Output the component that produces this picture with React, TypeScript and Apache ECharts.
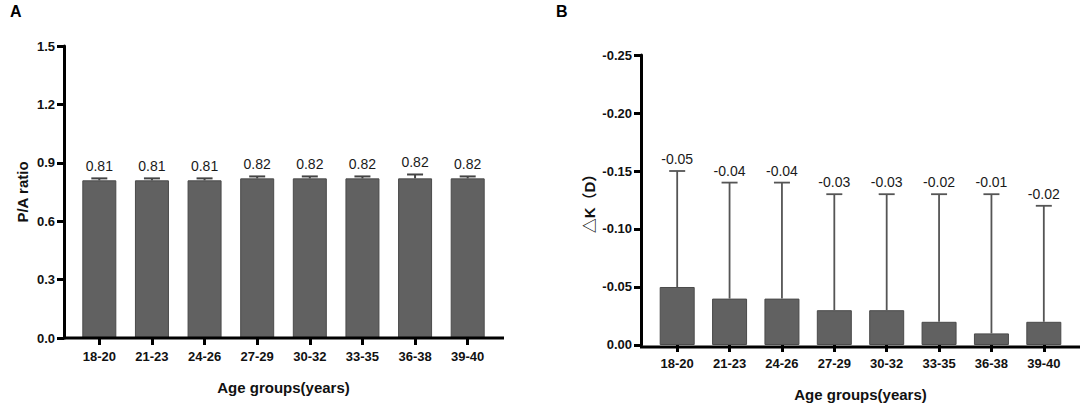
import React, { useEffect, useRef } from "react";
import * as echarts from "echarts";

const categories = ["18-20", "21-23", "24-26", "27-29", "30-32", "33-35", "36-38", "39-40"];
const paMean = [0.81, 0.81, 0.81, 0.82, 0.82, 0.82, 0.82, 0.82];
const paSD = [0.01, 0.01, 0.01, 0.01, 0.01, 0.01, 0.02, 0.01];
const dkMean = [-0.05, -0.04, -0.04, -0.03, -0.03, -0.02, -0.01, -0.02];
const dkSD = [0.1, 0.1, 0.1, 0.1, 0.1, 0.11, 0.12, 0.1];

const FONT = "'Liberation Sans', Arial, 'Noto Sans CJK SC', sans-serif";

function errorSeries(gridIdx: number, means: number[], sds: number[], dir: number, digits: number, lineColor: string, lineW: number) {
  const data = means.map((m, i) => [i, m, +(m + dir * sds[i]).toFixed(4), m]);
  return {
    type: "custom",
    xAxisIndex: gridIdx,
    yAxisIndex: gridIdx,
    z: 5,
    data,
    renderItem: (params: any, api: any) => {
      const i = api.value(0);
      const m = api.value(1);
      const h = api.value(2);
      const p0 = api.coord([i, m]);
      const p1 = api.coord([i, h]);
      const cap = 8;
      return {
        type: "group",
        children: [
          { type: "line", shape: { x1: p0[0], y1: p0[1], x2: p1[0], y2: p1[1] }, style: { stroke: lineColor, lineWidth: lineW } },
          { type: "line", shape: { x1: p1[0] - cap, y1: p1[1], x2: p1[0] + cap, y2: p1[1] }, style: { stroke: lineColor, lineWidth: lineW } },
          {
            type: "text",
            style: {
              x: p1[0],
              y: p1[1] - 5,
              text: Number(api.value(3)).toFixed(digits),
              align: "center",
              verticalAlign: "bottom",
              fontSize: 14,
              fontFamily: FONT,
              fill: "#1a1a1a",
            },
          },
        ],
      };
    },
  };
}

export default function App() {
  const ref = useRef<HTMLDivElement>(null);
  useEffect(() => {
    document.body.style.margin = "0";
    const chart = echarts.init(ref.current!, null, { renderer: "svg" });
    const axisBase = {
      type: "category",
      data: categories,
      axisLine: { show: false },
      axisTick: { show: true, alignWithLabel: true, length: 7, lineStyle: { color: "#000", width: 3 } },
      axisLabel: { color: "#111", fontWeight: "bold", fontSize: 13, fontFamily: FONT, margin: 12 },
      name: "Age groups(years)",
      nameLocation: "middle",
      nameGap: 42,
      nameTextStyle: { color: "#111", fontWeight: "bold", fontSize: 15, fontFamily: FONT },
    };
    const yBase = {
      type: "value",
      nameLocation: "middle",
      axisLine: { show: true, lineStyle: { color: "#000", width: 3 } },
      axisTick: { show: true, length: 7, lineStyle: { color: "#000", width: 3 } },
      splitLine: { show: false },
      nameTextStyle: { color: "#111", fontWeight: "bold", fontSize: 15, fontFamily: FONT },
    };
    const barStyle = { color: "#616161", borderColor: "#4a4a4a", borderWidth: 1 };
    chart.setOption({
      animation: false,
      grid: [
        { left: 73, top: 46, width: 421, height: 292 },
        { left: 651, top: 55, width: 419, height: 292 },
      ],
      xAxis: [
        { ...axisBase, gridIndex: 0 },
        { ...axisBase, gridIndex: 1 },
      ],
      yAxis: [
        {
          ...yBase,
          gridIndex: 0,
          min: 0,
          max: 1.5,
          interval: 0.3,
          offset: 9,
          name: "P/A ratio",
          nameGap: 34,
          axisLabel: { color: "#111", fontWeight: "bold", fontSize: 13, fontFamily: FONT, margin: 9, formatter: (v: number) => v.toFixed(1) },
        },
        {
          ...yBase,
          gridIndex: 1,
          min: -0.25,
          max: 0,
          interval: 0.05,
          inverse: true,
          offset: 10,
          name: "△K（D）",
          nameGap: 44,
          axisLabel: { color: "#111", fontWeight: "bold", fontSize: 13, fontFamily: FONT, margin: 9, formatter: (v: number) => v.toFixed(2) },
        },
      ],
      graphic: [
        { type: "line", shape: { x1: 63, y1: 338, x2: 504, y2: 338 }, style: { stroke: "#000", lineWidth: 3 }, z: 10 },
        { type: "line", shape: { x1: 640, y1: 347, x2: 1080, y2: 347 }, style: { stroke: "#000", lineWidth: 3 }, z: 10 },
        { type: "text", left: 10, top: 3, style: { text: "A", fontSize: 16, fontWeight: "bold", fontFamily: FONT, fill: "#000" } },
        { type: "text", left: 556, top: 3, style: { text: "B", fontSize: 16, fontWeight: "bold", fontFamily: FONT, fill: "#000" } },
      ],
      series: [
        { type: "bar", xAxisIndex: 0, yAxisIndex: 0, data: paMean, barWidth: 34, itemStyle: barStyle },
        errorSeries(0, paMean, paSD, 1, 2, "#444", 2),
        { type: "bar", xAxisIndex: 1, yAxisIndex: 1, data: dkMean, barWidth: 35, itemStyle: barStyle },
        errorSeries(1, dkMean, dkSD, -1, 2, "#555", 1.8),
      ],
    });
    return () => chart.dispose();
  }, []);
  return <div ref={ref} style={{ width: 1084, height: 407 }} />;
}
